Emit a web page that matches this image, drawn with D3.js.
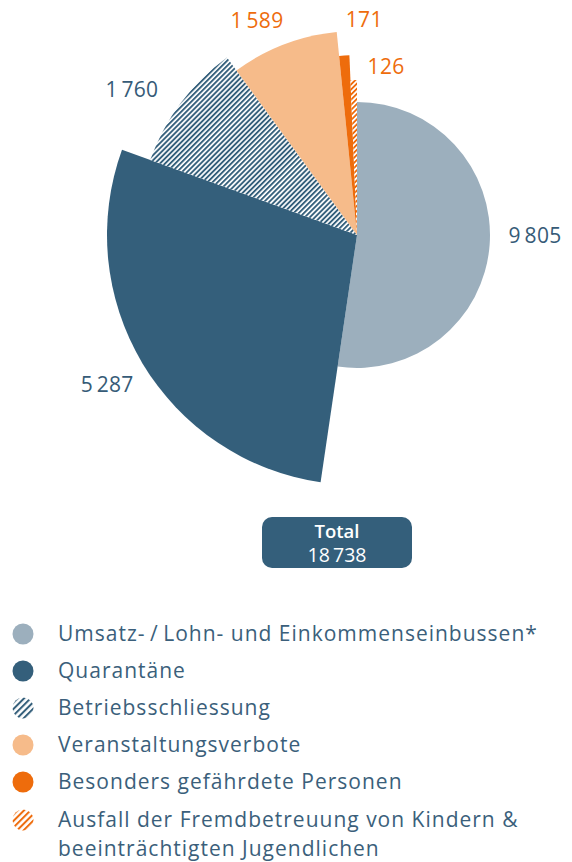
<!DOCTYPE html>
<meta charset="utf-8">
<style>
  body { margin: 0; background: #fff; }
  svg text { font-family: "Open Sans", sans-serif; }
  .val { font-size: 21px; letter-spacing: 0.3px; }
  .leg { font-size: 21px; fill: #3b5f7b; letter-spacing: 1px; }
</style>
<body>
<svg width="572" height="862"></svg>
<script src="https://d3js.org/d3.v7.min.js"></script>
<script>
// data -------------------------------------------------------------------
var categories = ["Umsatz- / Lohn- und Einkommenseinbussen*", "Quarantäne", "Betriebsschliessung",
  "Veranstaltungsverbote", "Besonders gefährdete Personen",
  "Ausfall der Fremdbetreuung von Kindern & beeinträchtigten Jugendlichen"];
var values = [9805, 5287, 1760, 1589, 171, 126];
var valueLabels = ["9\u2009805", "5\u2009287", "1\u2009760", "1\u2009589", "171", "126"];
var totalLabel = "18\u2009738";

// look ------------------------------------------------------------------
var colors = ["#9cafbd", "#345f7b", "hatchBlue", "#f6bb8a", "#ee6c0c", "hatchOrange"];
var labelColors = ["#365b77", "#365b77", "#365b77", "#ee6c0c", "#ee6c0c", "#ee6c0c"];
var radii = [133, 250, 220, 204, 180, 155];
// label: shift of angle (deg) from slice middle, distance from centre
var labelPos = [[-4, 178], [0, 291], [-4, 268], [-4, 237], [6, 215], [11, 171]];
var legendLines = [["Umsatz-\u2009/\u2009Lohn- und Einkommenseinbussen*"], ["Quarantäne"], ["Betriebsschliessung"],
  ["Veranstaltungsverbote"], ["Besonders gefährdete Personen"],
  ["Ausfall der Fremdbetreuung von Kindern &", "beeinträchtigten Jugendlichen"]];

var svg = d3.select("svg");
var cx = 357, cy = 235;

// hatch patterns
var defs = svg.append("defs");
function hatch(id, col, size, w) {
  var p = defs.append("pattern")
    .attr("id", id)
    .attr("patternUnits", "userSpaceOnUse")
    .attr("width", size).attr("height", size)
    .attr("patternTransform", "rotate(45)");
  p.append("rect").attr("width", size).attr("height", size).attr("fill", "#fff");
  p.append("rect").attr("width", w).attr("height", size).attr("fill", col);
}
hatch("hatchBlue", "#345f7b", 3.6, 1.9);
hatch("hatchOrange", "#ee6c0c", 3.6, 1.8);
hatch("hatchBlueL", "#345f7b", 4.6, 2.0);
hatch("hatchOrangeL", "#ee6c0c", 4.6, 2.0);

function fillOf(i, legend) {
  var c = colors[i];
  if (c.indexOf("hatch") === 0) return "url(#" + c + (legend ? "L" : "") + ")";
  return c;
}

var pie = d3.pie().sort(null).value(d => d);
var arcs = pie(values);

var g = svg.append("g").attr("transform", "translate(" + cx + "," + cy + ")");

g.selectAll("path.slice")
  .data(arcs)
  .enter().append("path")
  .attr("class", "slice")
  .attr("d", (d, i) => d3.arc().innerRadius(0).outerRadius(radii[i])(d))
  .attr("fill", (d, i) => fillOf(i, false));

// value labels
g.selectAll("text.val")
  .data(arcs)
  .enter().append("text")
  .attr("class", "val")
  .attr("text-anchor", "middle")
  .attr("dy", "0.35em")
  .attr("x", (d, i) => {
    var a = (d.startAngle + d.endAngle) / 2 + labelPos[i][0] * Math.PI / 180;
    return Math.sin(a) * labelPos[i][1];
  })
  .attr("y", (d, i) => {
    var a = (d.startAngle + d.endAngle) / 2 + labelPos[i][0] * Math.PI / 180;
    return -Math.cos(a) * labelPos[i][1];
  })
  .attr("fill", (d, i) => labelColors[i])
  .text((d, i) => valueLabels[i]);

// total box
var tot = svg.append("g").attr("transform", "translate(337,542)");
tot.append("rect")
  .attr("x", -75).attr("y", -25).attr("width", 150).attr("height", 51)
  .attr("rx", 10).attr("fill", "#345f7b");
tot.append("text").attr("text-anchor", "middle").attr("y", -4)
  .attr("fill", "#fff").style("font-size", "18.5px").style("font-weight", "600")
  .text("Total");
tot.append("text").attr("text-anchor", "middle").attr("y", 20)
  .attr("fill", "#fff").style("font-size", "19.5px")
  .text(totalLabel);

// legend
var rowY = [634, 671, 708, 745, 782, 820];
var leg = svg.selectAll("g.legend")
  .data(categories)
  .enter().append("g")
  .attr("class", "legend")
  .attr("transform", (d, i) => "translate(0," + rowY[i] + ")");

leg.append("circle")
  .attr("cx", 23).attr("cy", 0).attr("r", 10.5)
  .attr("fill", (d, i) => fillOf(i, true));

leg.append("text")
  .attr("class", "leg")
  .attr("x", 58)
  .attr("y", 7)
  .selectAll("tspan")
  .data((d, i) => legendLines[i])
  .enter().append("tspan")
  .attr("x", 58)
  .attr("dy", (d, j) => j === 0 ? 0 : 29)
  .text(d => d);
</script>
</body>
